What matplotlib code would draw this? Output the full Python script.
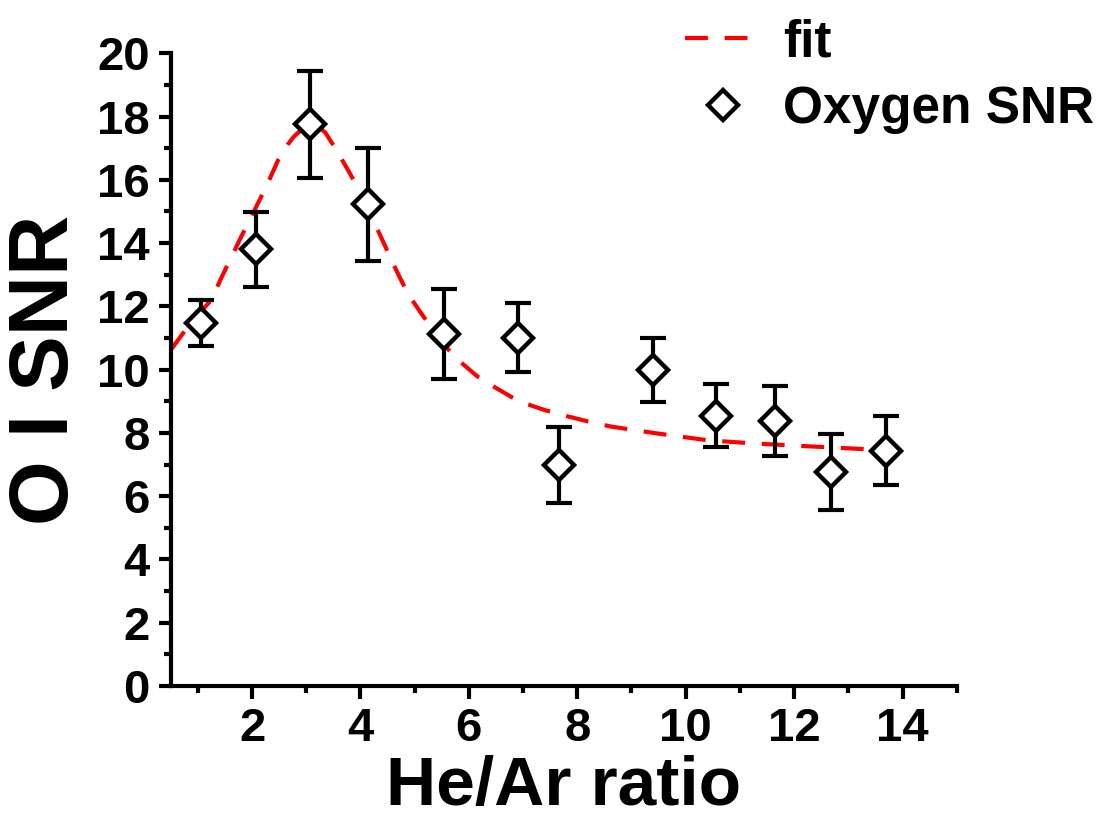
"""O I SNR vs He/Ar ratio with fit"""
import matplotlib
matplotlib.use("Agg")
import matplotlib.pyplot as plt
from matplotlib.ticker import MultipleLocator

plt.rcParams['font.family'] = ['Liberation Sans', 'DejaVu Sans']
plt.rcParams['font.weight'] = 'bold'

# measured points
ratio = [1.06, 2.07, 3.07, 4.14, 5.55, 6.91, 7.67, 9.39, 10.55, 11.65, 12.68, 13.69]
snr = [11.47, 13.80, 17.75, 15.22, 11.12, 11.01, 6.98, 9.99, 8.54, 8.38, 6.75, 7.44]
snr_err = [0.72, 1.19, 1.69, 1.80, 1.42, 1.10, 1.21, 1.0, 1.0, 1.10, 1.20, 1.10]

# fit curve
fit_x = [0.5, 0.9, 1.25, 1.43, 1.8, 2.11, 2.29, 2.48, 2.66, 2.78, 2.91, 3.05,
         3.2, 3.35, 3.52, 3.77, 4.01, 4.32, 4.63, 4.87, 5.12, 5.43, 5.73,
         6.16, 6.5, 6.78, 7.02, 7.4, 7.85, 8.2, 8.62, 9.44, 10.39, 11.21,
         12.1, 13.37, 13.7]
fit_y = [10.62, 11.55, 12.2, 12.89, 14.2, 15.26, 15.89, 16.62, 17.12, 17.38,
         17.58, 17.7, 17.7, 17.5, 17.04, 16.31, 15.57, 14.41, 13.25, 12.41,
         11.78, 11.04, 10.41, 9.78, 9.42, 9.14, 8.94, 8.72, 8.51, 8.36, 8.2,
         7.99, 7.77, 7.67, 7.59, 7.48, 7.46]

fig = plt.figure(figsize=(11.13, 8.22), dpi=100)
ax = fig.add_axes([0.1534, 0.1655, 0.7062, 0.7697])

ax.plot(fit_x, fit_y, color='#ff0000', linestyle=(0, (5.5, 4)), linewidth=3,
        zorder=2, label='fit')
ax.errorbar(ratio, snr, yerr=snr_err, fmt='none', ecolor='black',
            elinewidth=3, capsize=9.5, capthick=3, zorder=3)
ax.plot(ratio, snr, linestyle='none', marker='D', markersize=15,
        markerfacecolor='white', markeredgecolor='black', markeredgewidth=3.2,
        zorder=4, label='Oxygen SNR')

ax.set_xlim(0.5, 15)
ax.set_ylim(0, 20)
ax.xaxis.set_major_locator(MultipleLocator(2))
ax.xaxis.set_minor_locator(MultipleLocator(1))
ax.yaxis.set_major_locator(MultipleLocator(2))
ax.yaxis.set_minor_locator(MultipleLocator(1))

for side in ['top', 'right']:
    ax.spines[side].set_visible(False)
for side in ['left', 'bottom']:
    ax.spines[side].set_linewidth(3)
    ax.spines[side].set_capstyle('projecting')

ax.tick_params(which='major', direction='out', length=9, width=3,
               labelsize=34, pad=6)
ax.tick_params(which='minor', direction='out', length=5, width=3)
for lab in ax.get_xticklabels() + ax.get_yticklabels():
    lab.set_fontweight('bold')

ax.set_xlabel('He/Ar ratio', fontsize=50, fontweight='bold', labelpad=3)
ax.set_ylabel('O I SNR', fontsize=60, fontweight='bold', labelpad=9)

fig.legend(loc='upper left', bbox_to_anchor=(685 / 1113, 0.978),
           frameon=False, handlelength=1.46, handletextpad=0.45,
           borderpad=0, borderaxespad=0, labelspacing=0.34,
           prop={'weight': 'bold', 'size': 37})

fig.savefig('out.png', dpi=100)
